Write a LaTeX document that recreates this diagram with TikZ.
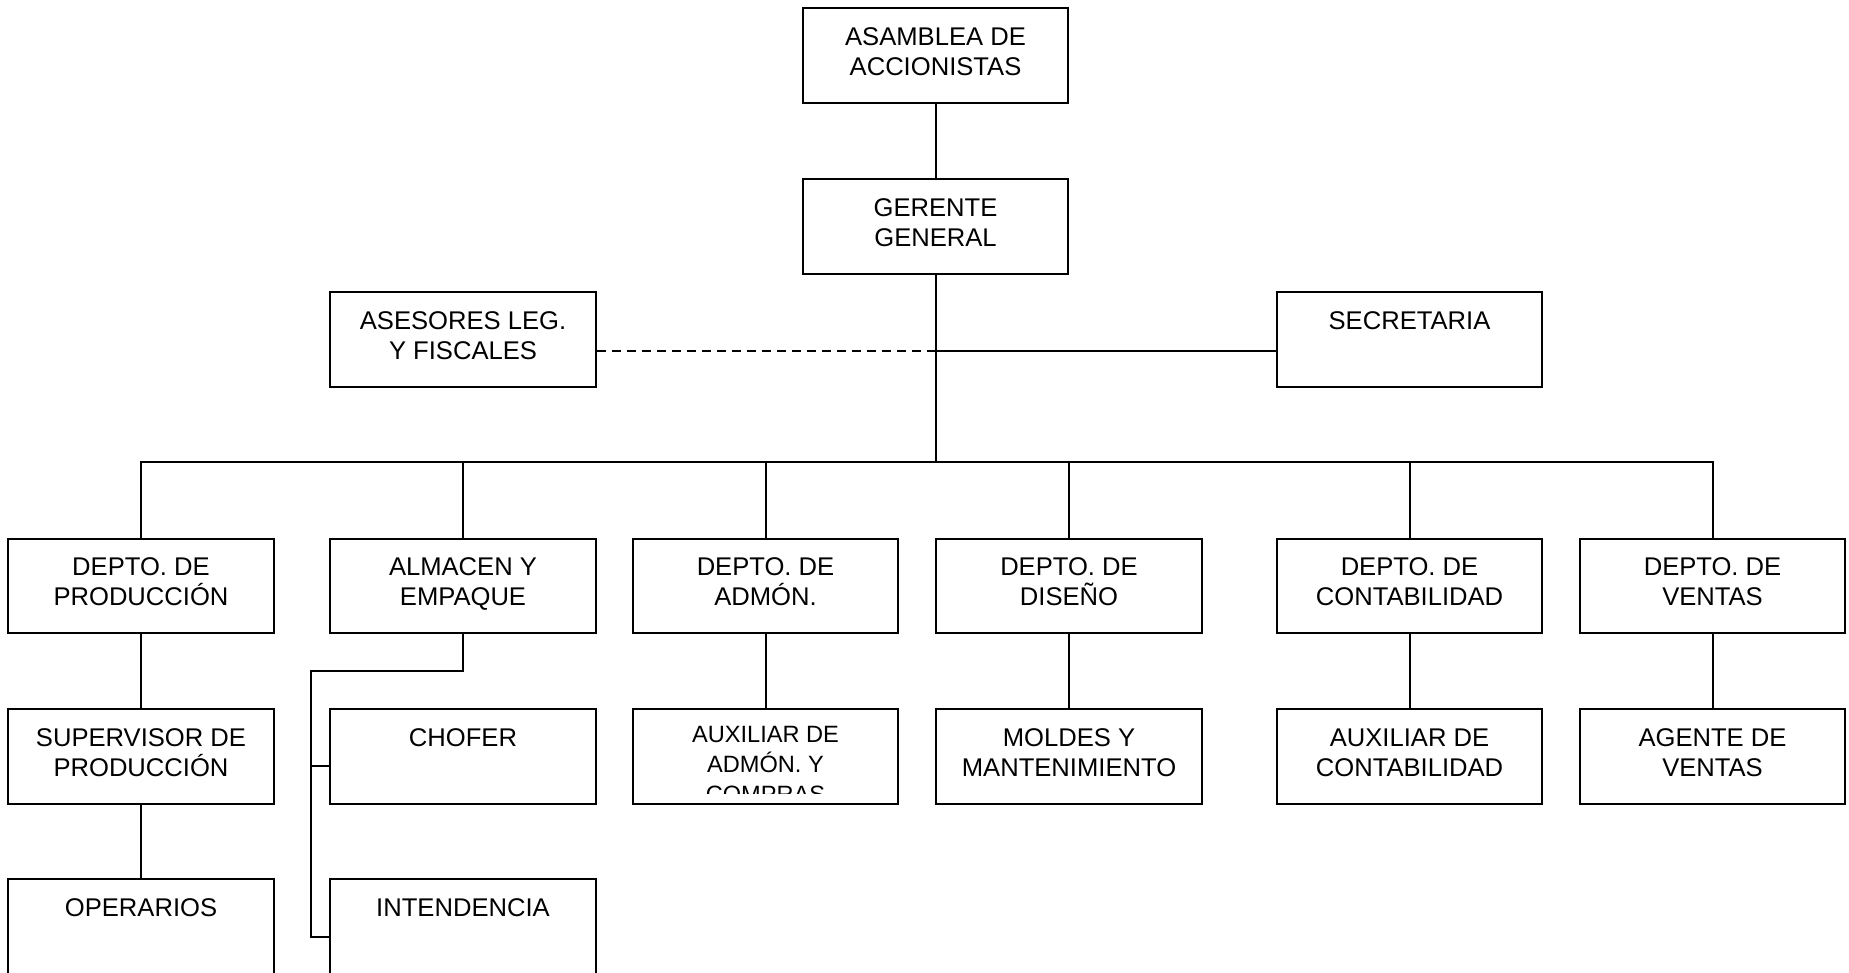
\documentclass[tikz,border=0pt]{standalone}
\usepackage{fontspec}
\setmainfont{Liberation Sans}
\newcommand\orgbox[4]{%
  \node[box] (#1) at (#2,#3+47.25) {};
  \node[txt] (#1t) at (#2,#3+18.5) {#4};}
\begin{document}
\begin{tikzpicture}[x=1pt,y=-1pt,line width=2pt,
  box/.style={draw,line width=2pt,minimum width=265.5pt,minimum height=94.5pt,inner sep=0pt},
  txt/.style={anchor=north,inner sep=0pt,align=center,font=\fontsize{25.6}{30}\selectfont},
  link/.style={draw,line width=2pt},
  dashlink/.style={draw,line width=2pt,dash pattern=on 9pt off 6pt}]
\useasboundingbox (0,0) rectangle (1849,972);
\clip (0,0) rectangle (1849,972);
% top
\orgbox{asamblea}{935.5}{8}{ASAMBLEA DE\\ACCIONISTAS}
\orgbox{gerente}{935.5}{179}{GERENTE\\GENERAL}
\orgbox{asesores}{463}{292}{ASESORES LEG.\\Y FISCALES}
\orgbox{secretaria}{1409.5}{292}{SECRETARIA}
% row 2
\orgbox{prod}{141}{538.5}{DEPTO. DE\\PRODUCCIÓN}
\orgbox{alm}{463}{538.5}{ALMACEN Y\\EMPAQUE}
\orgbox{adm}{765.5}{538.5}{DEPTO. DE\\ADMÓN.}
\orgbox{dis}{1069}{538.5}{DEPTO. DE\\DISEÑO}
\orgbox{cont}{1409.5}{538.5}{DEPTO. DE\\CONTABILIDAD}
\orgbox{ven}{1712.5}{538.5}{DEPTO. DE\\VENTAS}
% row 3
\orgbox{sup}{141}{709}{SUPERVISOR DE\\PRODUCCIÓN}
\orgbox{chof}{463}{709}{CHOFER}
\node[box] (aux) at (765.5,709+47.25) {};
\begin{scope}
  \clip (633,709) rectangle (898,793);
  \node[txt,font=\fontsize{23.6}{30}\selectfont] (auxt) at (765.5,725.5) {AUXILIAR DE\\ADMÓN. Y\\COMPRAS};
\end{scope}
\orgbox{mold}{1069}{709}{MOLDES Y\\MANTENIMIENTO}
\orgbox{auxc}{1409.5}{709}{AUXILIAR DE\\CONTABILIDAD}
\orgbox{age}{1712.5}{709}{AGENTE DE\\VENTAS}
% row 4
\orgbox{oper}{141}{879}{OPERARIOS}
\orgbox{inte}{463}{879}{INTENDENCIA}
% connectors
\coordinate (bus) at (935.5,462);
\coordinate (side) at (935.5,351);
\path[link] (asamblea.south) -- (gerente.north);
\path[link] (gerente.south) -- (bus);
\path[dashlink] (asesores.east |- side) -- (side);
\path[link] (side) -- (secretaria.west |- side);
\path[link] (prod.north) -- (prod.north |- bus) -- (ven.north |- bus) -- (ven.north);
\path[link] (alm.north) -- (alm.north |- bus);
\path[link] (adm.north) -- (adm.north |- bus);
\path[link] (dis.north) -- (dis.north |- bus);
\path[link] (cont.north) -- (cont.north |- bus);
\path[link] (prod.south) -- (sup.north);
\path[link] (sup.south) -- (oper.north);
\path[link] (adm.south) -- (aux.north);
\path[link] (dis.south) -- (mold.north);
\path[link] (cont.south) -- (auxc.north);
\path[link] (ven.south) -- (age.north);
\coordinate (aljoin) at (311,671);
\coordinate (chbr) at (311,766);
\coordinate (altail) at (311,937);
\path[link] (alm.south) |- (aljoin) -- (altail) -- (altail -| inte.west);
\path[link] (chbr) -- (chbr -| chof.west);
\end{tikzpicture}
\end{document}
